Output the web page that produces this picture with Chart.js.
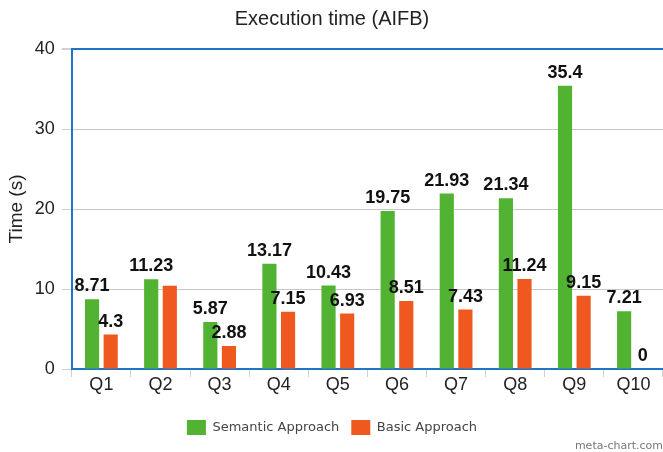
<!DOCTYPE html>
<html>
  <head>
    <title>Execution time (AIFB)</title>
    <style>
      html, body{ margin: 0; padding: 0; background-color: #ffffff; }
      .wrap{ position: relative; width: 663px; height: 452px; }
      .credit{ position: absolute; right: 0; bottom: 0px; font-family: "DejaVu Sans", sans-serif; font-size: 11px; color: #777; }
    </style>
    <script src="https://cdn.jsdelivr.net/npm/chart.js"></script>
  </head>
  <body>
    <div class="wrap">
      <canvas id="myChart" width="663" height="452"></canvas>
      <div class="credit">meta-chart.com</div>
    </div>

    <script>
      // Define the data
      const queries = ['Q1', 'Q2', 'Q3', 'Q4', 'Q5', 'Q6', 'Q7', 'Q8', 'Q9', 'Q10'];
      const semantic = [8.71, 11.23, 5.87, 13.17, 10.43, 19.75, 21.93, 21.34, 35.4, 7.21];
      const basic = [4.3, 10.4, 2.88, 7.15, 6.93, 8.51, 7.43, 11.24, 9.15, 0];

      const blue = '#1f74c6';

      // value labels above the bars, skipped when they would overlap an earlier one
      const valueLabels = {
        id: 'valueLabels',
        afterDatasetsDraw(chart) {
          const ctx = chart.ctx;
          const placed = [];
          ctx.save();
          ctx.font = 'bold 18px "Liberation Sans", Arial, sans-serif';
          ctx.fillStyle = '#111';
          ctx.textAlign = 'center';
          ctx.textBaseline = 'bottom';
          chart.data.datasets.forEach((ds, i) => {
            chart.getDatasetMeta(i).data.forEach((bar, j) => {
              const txt = String(ds.data[j]);
              const w = ctx.measureText(txt).width;
              const y = bar.y - 4;
              const box = { l: bar.x - w / 2, r: bar.x + w / 2, t: y - 16, b: y };
              const hit = placed.some(p => box.l < p.r && box.r > p.l && box.t < p.b && box.b > p.t);
              if (hit) return;
              placed.push(box);
              ctx.fillText(txt, bar.x, y);
            });
          });
          ctx.restore();
        }
      };

      const ctx = document.getElementById('myChart').getContext('2d');
      const myChart = new Chart(ctx, {
        type: 'bar',
        data: {
          labels: queries,
          datasets: [
            {
              label: 'Semantic Approach',
              data: semantic,
              backgroundColor: '#52b232',
              categoryPercentage: 0.63,
              barPercentage: 0.76
            },
            {
              label: 'Basic Approach',
              data: basic,
              backgroundColor: '#ef581e',
              categoryPercentage: 0.63,
              barPercentage: 0.76
            }
          ]
        },
        options: {
          responsive: false,
          animation: false,
          layout: { padding: { left: 1, right: 0, top: 0, bottom: 7 } },
          scales: {
            y: {
              min: 0,
              max: 40,
              ticks: {
                stepSize: 10,
                padding: 7,
                color: '#222',
                font: { family: '"Liberation Sans", Arial, sans-serif', size: 18 }
              },
              grid: {
                color: (c) => c.tick && c.tick.value === 40 ? blue : '#c8c8c8',
                lineWidth: (c) => c.tick && c.tick.value === 40 ? 2 : 1,
                tickColor: '#d0d0d0',
                tickLength: 10
              },
              border: { color: blue, width: 2 },
              title: {
                display: true,
                text: 'Time (s)',
                color: '#222',
                padding: { top: 4, bottom: 0 },
                font: { family: '"Liberation Sans", Arial, sans-serif', size: 19 }
              }
            },
            x: {
              afterFit(scale) { scale.height += 15; },
              ticks: {
                padding: -1,
                color: '#222',
                font: { family: '"Liberation Sans", Arial, sans-serif', size: 18, lineHeight: 1 }
              },
              grid: {
                drawOnChartArea: false,
                tickColor: '#d0d0d0',
                tickLength: 8
              },
              border: { color: blue, width: 2 }
            }
          },
          plugins: {
            title: {
              display: true,
              text: 'Execution time (AIFB)',
              color: '#222',
              padding: { top: 7, bottom: 18 },
              font: { family: '"Liberation Sans", Arial, sans-serif', size: 20, weight: 'normal' }
            },
            legend: {
              position: 'bottom',
              labels: {
                color: '#444',
                boxWidth: 19,
                boxHeight: 15,
                padding: 12,
                font: { family: '"DejaVu Sans", sans-serif', size: 13 }
              }
            },
            tooltip: { enabled: false }
          }
        },
        plugins: [valueLabels]
      });
    </script>
  </body>
</html>
